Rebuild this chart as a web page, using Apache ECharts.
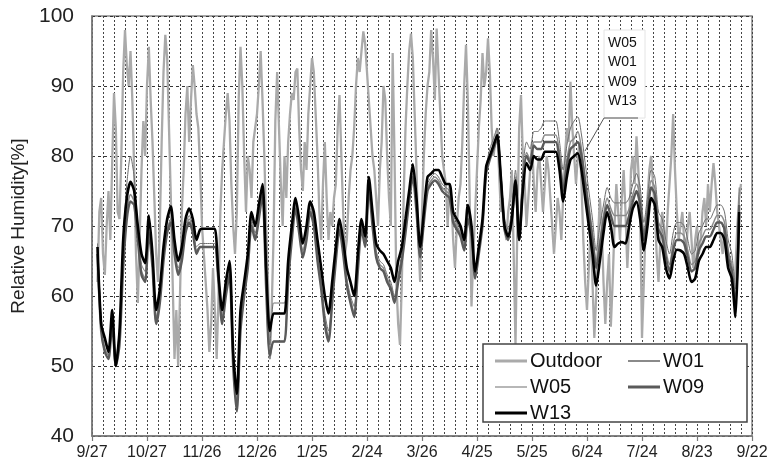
<!DOCTYPE html>
<html>
<head>
<meta charset="utf-8">
<script src="https://cdn.jsdelivr.net/npm/echarts@6/dist/echarts.min.js"></script>
<style>
html,body{margin:0;padding:0;background:#fff;}
#chart{width:771px;height:469px;}
</style>
</head>
<body>
<div id="chart"></div>
<script>
// x axis: days since 9/27, tick every 30 days
const xTickLabels = ['9/27','10/27','11/26','12/26','1/25','2/24','3/26','4/25','5/25','6/24','7/24','8/23','9/22'];
const yTicks = [40, 50, 60, 70, 80, 90, 100];

// Sampling of the series: W series every 2 days from day 3, outdoor daily from day 3
const wStartDay = 3, wStepDays = 2;
const outdoorStartDay = 3, outdoorStepDays = 1;

const w13 = [
67,56,54,52,58,50,55,68,74,76.3,
75,70,66,64.7,71.5,66,58,61,67,71,
72.8,68,65,67,71,72.5,71,68,69.5,69.6,
69.6,69.6,69.6,63,58,62,65,52,46,58,
62,66,72,70,73,76,64,55,57.5,57.5,
57.5,57.5,65,70,74,71,67.5,70,73.5,72,
68,64,60,57.5,62,67,71,68,64,62,
60,66,71,68.5,77,72,67.5,66.5,66,65,
64,62,65,67,71,75,78.8,74,67,72,
77,77.5,78,78,77,76,76,72,71,70,
68,73,70,63.5,67,71,78.5,80,81.5,83,
77,70,68.5,71,76.5,68,75,79,78,80,
79.5,79.5,80.6,80.6,80.6,80.6,78,73.5,77,79.5,
80,80.4,78,74,70,66,61.5,65,69,72,
70,67,67.5,67.7,67.5,70,72.5,73.5,71,66.5,
70,74,73,68,67,64,62.5,65,66.6,66.5,
66,64,62,62.5,65,66,67,67,68,69,
69,68,64,62.5,57,72
];

const w09 = [
66,55,52,51,56,50,53,64,71,73.5,
73,68,63,62,69,64,56,59,65,69,
70.5,66,63,65,69,70.5,69,66,67,67,
67,67,67,62,56,60,63,50,43.5,55,
60,64,70,68,71,74.5,61,51.5,53.5,53.5,
53.5,53.5,62,68,72.5,69,65.5,68,72,70,
65,61,56,53.5,59,65,69.5,66,61.5,59,
57,63.5,69.5,67,75.5,70,65.5,64,63.5,62,
61,59,62,65,69,73.5,77,72,65.5,70.5,
75,76,76.5,76,75,74.5,74,70.5,69.5,68.5,
66.5,71,68.5,62.5,66,70,77.5,79.5,81,82.5,
76.5,69.5,68,71,76.5,68,76,80,79,81.5,
81,81,82,82,82,82,79.5,75,78.5,81,
81.5,82,80,76,72,68,64,67,70.5,73,
71.5,70,70,70,70,71.5,73.5,75,73,68,
71.5,75.5,74.5,69.5,68.5,65.5,63.5,66.5,68,68,
67.5,65.5,63.5,64,66.5,67.5,68.5,68.5,69.5,70.5,
70.5,69.5,65.5,63.5,58.5,73
];

const w01 = [
66.5,55.5,52.5,51.5,56.5,50.5,54,65,72,74.5,
73.5,68.5,63.5,62.5,69.5,64.5,56.5,59.5,65.5,69.5,
71,66.5,63.5,65.5,69.5,71,69.5,66.5,67,67,
67,67,67,62.5,56.5,60.5,63.5,50.5,44,55.5,
60.5,64.5,70.5,68.5,71.5,75,61.5,51,53.5,53.5,
53.5,53.5,62.5,68.5,73,69.5,66,68.5,72.5,70.5,
65.5,61.5,56.5,54,59.5,65.5,70,66.5,62,59.5,
57.5,64,70,67.5,76,70.5,66,64.5,64,62.5,
61.5,59.5,62.5,65.5,69.5,74,77.5,72.5,66,71,
75.5,76.5,77,76.5,75.5,75,74.5,71,70,69,
67,71.5,69,63,66.5,70.5,78,80,81.5,83,
77,70,68.5,71.5,77,68.5,76.5,80.5,79.5,82,
82,82,83,83,83,83,80.5,76,79.5,82,
82.5,83.5,81,77,73,69,65,68,71.5,74,
72.5,71.5,71.5,71.5,71.5,72.5,74.5,76,74,69,
72.5,76.5,75.5,70.5,69.5,66.5,64.5,67.5,69,69,
68.5,66.5,64.5,65,67.5,68.5,69.5,69.5,70.5,71.5,
71.5,70.5,66.5,64.5,59.5,74
];

const w05 = [
67.5,57,53.5,52,57,51,55.5,68,76,80,
77,70,64.5,63.5,70.5,65,57,60,66,70.5,
72,67,64,66,70,71.5,70,67,67.5,67.5,
67.5,67.5,67.5,63,57,61,64,51,44.5,56,
61,65,71,69,72,75.5,63,53,59,59,
59,59,63.5,69,73.5,70,66.5,69,73,71,
66,62,57.5,55,60,66,70.5,67,62.5,60,
58.5,64.5,70.5,68,76.5,71,66.5,65,64.5,63,
62,60,63,66,70,74.5,78.5,73,66.5,71.5,
76,77,77.5,77,76,75.5,75,71.5,70.5,69.5,
67.5,72,69.5,63.5,67,71,78.5,81,82.5,84,
78,71,69.5,72.5,78,70,78,82,81,83.5,
83.5,84,85,85,85,85,82,78,81.5,84,
85,85.6,83,79,75,71,66.5,70,73,75.5,
74,73.3,73.3,73.3,73.3,74,76,77.5,75.5,70.5,
74,78,77,72,71,68,66,69,70.5,70.5,
70,68,66,66.5,69,70,71,71,72,73,
73,72,68,66,61,75.5
];

const outdoor = [
62,72,74,66,63,70,75,68,79,89,
84,72,71,80,92,98,93,90,95,88,
78,66,59,68,78,85,80,90,95.6,88,
82,74,66,62,70,82,92,97.3,94,84,
74,62,51,58,50,60,72,78,86,90,
82,88,93,90,86,84,78,70,66,62,
58,52,56,64,58,51,60,72,78,82,
86,89,85,76,70,66,72,88,95.6,90,
80,72,80,78,74,82,84,86,90,95,
88,80,70,62,51,58,68,85,92,84,
76,70,80,74,82,86,89,88,92,92.5,
84,78,75,82,78,86,90,94,92,86,
80,72,68,76,82,74,68,72,70,74,
76,84,88.7,80,72,66,68,74,78,80,
84,90,94,92,95,97.8,96,92,88,84,
80,78,74,70,78,82,90,88,80,74,
70,94.7,80,62,56,53,62,74,84,90,
95,97.5,94,86,78,68,62,72,80,86,
90,92,98,94,88,98.2,92,86,80,78,
76,70,76,74,68,64,70,74,76,82,
90,95.9,88,74,58.5,66,72,78,84,88,
94.7,90,92,96.8,92,84,80,82,84,78,
72,74,70,68,72,74,78,66,53,70,
84,88.7,80,76,70,74,78,82,76,72,
78,80,76,72,76,80,78,74,70,66,
70,74,72,68,74,80,84,82,90.6,84,
80,76,80,82,76,68,62,58,64,70,
62,54,60,68,74,70,62,56,62,66,
55.6,62,70,76,72,68,74,78,72,64,
70,78,80,76,82.8,78,72,54,62,70,
74,78,80,76,72,66,62,68,72,70,
66,72,76,80,86,78,72,68,70,72,
68,66,70,72,68,64,68,70,66,68,
72,74,70,76,72,76,79,76,72,70,
68,66,70,68,66,64,62,60,64,70,
74,76
];

function toPairs(vals, start, step) {
  return vals.map((v, i) => [start + i * step, v]);
}

const chart = echarts.init(document.getElementById('chart'), null, {renderer: 'canvas'});
const FONT = '"Liberation Sans", Arial, sans-serif';

const COLORS = {Outdoor: '#aaaaaa', W05: '#6e6e6e', W01: '#8a8a8a', W09: '#5a5a5a', W13: '#000000'};
const ICONS = {
  thin: 'path://M0,0 L32,0 L32,1 L0,1 Z',
  mid: 'path://M0,0 L32,0 L32,2 L0,2 Z',
  thick: 'path://M0,0 L32,0 L32,3 L0,3 Z'
};
function legendItem(name, icon) {
  return {name: name, icon: ICONS[icon], itemStyle: {color: COLORS[name], borderWidth: 0}};
}
const legendBase = {
  orient: 'vertical', itemWidth: 32, itemHeight: 14, itemGap: 6, z: 6,
  textStyle: {color: '#111', fontSize: 20, fontFamily: FONT, padding: [0, 0, 0, -2]},
  selectedMode: false, itemStyle: {borderWidth: 0}, lineStyle: {width: 0}
};
const SM = 0.25;

const option = {
  animation: false,
  backgroundColor: '#fff',
  grid: {left: 92, right: 19, top: 16, bottom: 33, show: true, borderColor: '#888', borderWidth: 1.5, backgroundColor: 'transparent'},
  xAxis: {
    type: 'value', min: 0, max: 360, interval: 30,
    axisLine: {show: true, onZero: false, lineStyle: {color: '#777', width: 1.5}},
    axisTick: {show: true, length: 5, inside: false, lineStyle: {color: '#777', width: 1.2}},
    axisLabel: {color: '#222', fontSize: 16, fontFamily: FONT, margin: 9,
      formatter: v => xTickLabels[Math.round(v / 30)] || ''},
    splitLine: {show: true, lineStyle: {color: '#444', type: [2, 2], width: 1}},
    minorTick: {show: false, splitNumber: 5},
    minorSplitLine: {show: true, lineStyle: {color: '#444', type: [2, 2], width: 1}}
  },
  yAxis: {
    type: 'value', min: yTicks[0], max: yTicks[yTicks.length - 1], interval: 10,
    name: 'Relative Humidity[%]', nameLocation: 'middle', nameGap: 58,
    nameTextStyle: {color: '#222', fontSize: 19, fontFamily: FONT},
    axisLine: {show: true, lineStyle: {color: '#777', width: 1.5}},
    axisTick: {show: false},
    axisLabel: {color: '#222', fontSize: 21, fontFamily: FONT, margin: 18},
    splitLine: {show: true, lineStyle: {color: '#333', type: [3, 3], width: 1}}
  },
  legend: [
    Object.assign({}, legendBase, {left: 490, top: 346,
      data: [legendItem('Outdoor', 'thick'), legendItem('W05', 'thin'), legendItem('W13', 'thick')]}),
    Object.assign({}, legendBase, {left: 623, top: 346,
      data: [legendItem('W01', 'mid'), legendItem('W09', 'thick')]})
  ],
  series: [
    {name: 'Outdoor', type: 'line', symbol: 'none', data: toPairs(outdoor, outdoorStartDay, outdoorStepDays),
      lineStyle: {color: COLORS.Outdoor, width: 2.3}, itemStyle: {color: COLORS.Outdoor}, z: 2},
    {name: 'W05', type: 'line', symbol: 'none', smooth: SM, data: toPairs(w05, wStartDay, wStepDays),
      lineStyle: {color: COLORS.W05, width: 1}, itemStyle: {color: COLORS.W05}, z: 3},
    {name: 'W01', type: 'line', symbol: 'none', smooth: SM, data: toPairs(w01, wStartDay, wStepDays),
      lineStyle: {color: COLORS.W01, width: 1.5}, itemStyle: {color: COLORS.W01}, z: 3},
    {name: 'W09', type: 'line', symbol: 'none', smooth: SM, data: toPairs(w09, wStartDay, wStepDays),
      lineStyle: {color: COLORS.W09, width: 2.4}, itemStyle: {color: COLORS.W09}, z: 4},
    {name: 'W13', type: 'line', symbol: 'none', smooth: SM, data: toPairs(w13, wStartDay, wStepDays),
      lineStyle: {color: COLORS.W13, width: 2.6}, itemStyle: {color: COLORS.W13}, z: 5}
  ],
  graphic: [
    {type: 'rect', z: 5, shape: {x: 483, y: 344, width: 264, height: 78},
      style: {fill: '#fff', stroke: '#444', lineWidth: 1.5}},
    {type: 'rect', z: 5, shape: {x: 604, y: 30, width: 41, height: 88},
      style: {fill: '#fff', stroke: '#e4e4e4', lineWidth: 1}},
    {type: 'text', z: 6, left: 608, top: 33,
      style: {text: 'W05\nW01\nW09\nW13', font: '14px "Liberation Sans", Arial, sans-serif', fill: '#111', lineHeight: 19.5}},
    {type: 'polyline', z: 6, shape: {points: [[638, 118], [604, 118], [585, 151]]},
      style: {stroke: '#555', lineWidth: 1, fill: null}}
  ]
};
chart.setOption(option);
</script>
</body>
</html>
